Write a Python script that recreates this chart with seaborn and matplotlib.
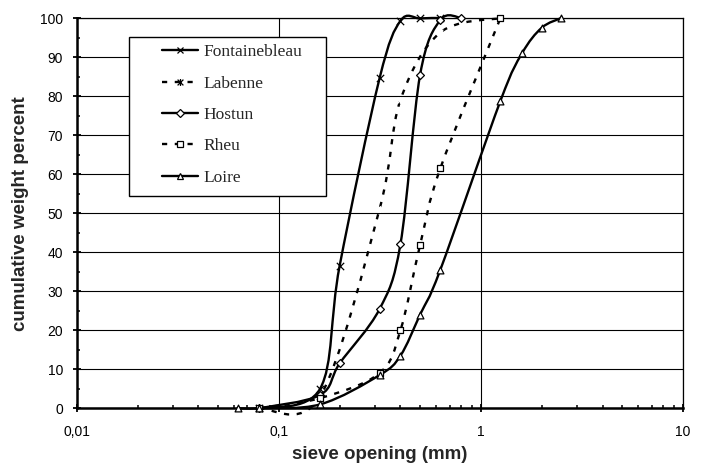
import numpy as np
import pandas as pd
import matplotlib
matplotlib.use("Agg")
import matplotlib.pyplot as plt
import seaborn as sns
from matplotlib.path import Path
from matplotlib.patches import PathPatch, Rectangle
from matplotlib.lines import Line2D
from matplotlib.ticker import FixedLocator, FixedFormatter, MultipleLocator, LogLocator, NullFormatter

# ---------------- data (sieve opening in mm, cumulative weight %) ----------------
series_names = ["Fontainebleau", "Labenne", "Hostun", "Rheu", "Loire"]

fontainebleau_x = [0.08, 0.16, 0.2, 0.315, 0.4, 0.5, 0.63]
fontainebleau_y = [0, 5, 36.5, 84.5, 99.3, 99.9, 100]

labenne_x = [0.08, 0.16, 0.315, 0.4, 0.63, 1.25]
labenne_y = [0, 3, 51, 79, 96.3, 100]

hostun_x = [0.08, 0.16, 0.2, 0.315, 0.4, 0.5, 0.63, 0.8]
hostun_y = [0, 3.4, 11.5, 25.4, 42.1, 85.4, 99.5, 100]

rheu_x = [0.08, 0.16, 0.315, 0.4, 0.5, 0.63, 1.25]
rheu_y = [0, 2.6, 9, 20, 41.8, 61.5, 100]

loire_x = [0.063, 0.08, 0.16, 0.315, 0.4, 0.5, 0.63, 1.25, 1.6, 2, 2.5]
loire_y = [0, 0, 1, 8.5, 13.5, 24, 35.5, 78.8, 91, 97.5, 100]

x_tick_values = [0.01, 0.1, 1, 10]
x_tick_labels = ["0,01", "0,1", "1", "10"]
y_tick_values = list(range(0, 101, 10))

# ---------------- style ----------------
sns.set_theme(style="white")
plt.rcParams['font.family'] = ['Liberation Sans', 'DejaVu Sans']

fig = plt.figure(figsize=(7.04, 4.68), dpi=100)
ax = fig.add_axes([76.7 / 704, (468 - 408.3) / 468, (683 - 76.7) / 704, (408.3 - 18) / 468])
ax.set_xscale("log")
ax.set_xlim(0.01, 10)
ax.set_ylim(0, 100)

# star marker (x with vertical bar), like the spreadsheet "star" marker
star = Path([(-1, -1), (1, 1), (-1, 1), (1, -1), (0, -1.2), (0, 1.2)],
            [Path.MOVETO, Path.LINETO, Path.MOVETO, Path.LINETO, Path.MOVETO, Path.LINETO])

dash = (0, (2.2, 3.2))
styles = {
    "Fontainebleau": dict(ls="-", marker="x", filled=False, ms=28),
    "Labenne": dict(ls=dash, marker=star, filled=False, ms=24),
    "Hostun": dict(ls="-", marker="D", filled=True, ms=16),
    "Rheu": dict(ls=dash, marker="s", filled=True, ms=22),
    "Loire": dict(ls="-", marker="^", filled=True, ms=24),
}
data = {
    "Fontainebleau": (fontainebleau_x, fontainebleau_y),
    "Labenne": (labenne_x, labenne_y),
    "Hostun": (hostun_x, hostun_y),
    "Rheu": (rheu_x, rheu_y),
    "Loire": (loire_x, loire_y),
}


def smooth_path(xs, ys):
    """Spreadsheet-style smoothed line: cubic Bezier segments through the points
    (Catmull-Rom control points computed in the log-x display space)."""
    P = np.column_stack([np.log10(xs), np.asarray(ys, float)])
    n = len(P)
    verts = [P[0]]
    codes = [Path.MOVETO]
    for i in range(n - 1):
        p0 = P[i - 1] if i > 0 else P[i]
        p1, p2 = P[i], P[i + 1]
        p3 = P[i + 2] if i + 2 < n else P[i + 1]
        verts += [p1 + (p2 - p0) / 6.0, p2 - (p3 - p1) / 6.0, p2]
        codes += [Path.CURVE4] * 3
    V = np.array(verts)
    V[:, 0] = 10 ** V[:, 0]
    return Path(V, codes)


lw = 1.7
for name in series_names:
    xs, ys = data[name]
    st = styles[name]
    ax.add_patch(PathPatch(smooth_path(xs, ys), fill=False, edgecolor="black",
                           lw=lw, linestyle=st["ls"], transform=ax.transData,
                           zorder=4, capstyle="butt", clip_on=False))
    df = pd.DataFrame({"x": xs, "y": ys})
    if st["filled"]:
        sns.scatterplot(data=df, x="x", y="y", ax=ax, marker=st["marker"], s=st["ms"],
                        facecolor="white", edgecolor="black", linewidth=0.9,
                        legend=False, zorder=5, clip_on=False)
    else:
        sns.scatterplot(data=df, x="x", y="y", ax=ax, marker=st["marker"], s=st["ms"],
                        color="black", linewidth=0.9, legend=False, zorder=5, clip_on=False)

# ---------------- axes, ticks, grid ----------------
ax.xaxis.set_major_locator(FixedLocator(x_tick_values))
ax.xaxis.set_major_formatter(FixedFormatter(x_tick_labels))
ax.xaxis.set_minor_locator(LogLocator(base=10, subs=np.arange(2, 10)))
ax.xaxis.set_minor_formatter(NullFormatter())
ax.yaxis.set_major_locator(FixedLocator(y_tick_values))
ax.yaxis.set_minor_locator(MultipleLocator(5))

ax.grid(True, which="major", axis="both", color="black", lw=0.8, zorder=1)
ax.set_axisbelow(True)

ax.tick_params(axis="both", which="major", direction="inout", length=5.5, width=1.3,
               color="black", labelsize=10, labelcolor="black")
ax.tick_params(axis="x", which="major", pad=9)
ax.tick_params(axis="y", which="major", pad=7)
ax.tick_params(axis="both", which="minor", direction="in", length=2.2, width=1.1, color="black")
ax.tick_params(bottom=True, left=True, which="both")

for s in ["left", "bottom"]:
    ax.spines[s].set_color("black")
    ax.spines[s].set_linewidth(1.8)
for s in ["top", "right"]:
    ax.spines[s].set_color("black")
    ax.spines[s].set_linewidth(0.9)

ax.set_xlabel("sieve opening (mm)", fontsize=13.5, fontweight="bold", labelpad=5)
ax.set_ylabel("cumulative weight percent", fontsize=13.5, fontweight="bold", labelpad=8)

# ---------------- legend ----------------
box = Rectangle((129 / 704, 1 - 195.7 / 468), (326 - 129) / 704, (195.7 - 37.3) / 468,
                transform=fig.transFigure, facecolor="white", edgecolor="black",
                lw=1.0, zorder=6)
fig.patches.append(box)

handles = []
for name in series_names:
    st = styles[name]
    handles.append(Line2D([], [], color="black", lw=lw, linestyle=st["ls"],
                          marker=st["marker"], markersize=5 if st["marker"] != "D" else 4,
                          markerfacecolor="white" if st["filled"] else "black",
                          markeredgecolor="black", markeredgewidth=0.9))
leg = fig.legend(handles=handles, labels=series_names, loc="upper left",
                 bbox_to_anchor=(162 / 704, 1 - 44 / 468), frameon=False,
                 prop={"family": ["Liberation Serif", "DejaVu Serif"], "size": 12.5},
                 handlelength=2.1, handletextpad=0.3, labelspacing=0.88, borderpad=0,
                 borderaxespad=0)
leg.set_zorder(7)

fig.savefig("out.png", dpi=100)
